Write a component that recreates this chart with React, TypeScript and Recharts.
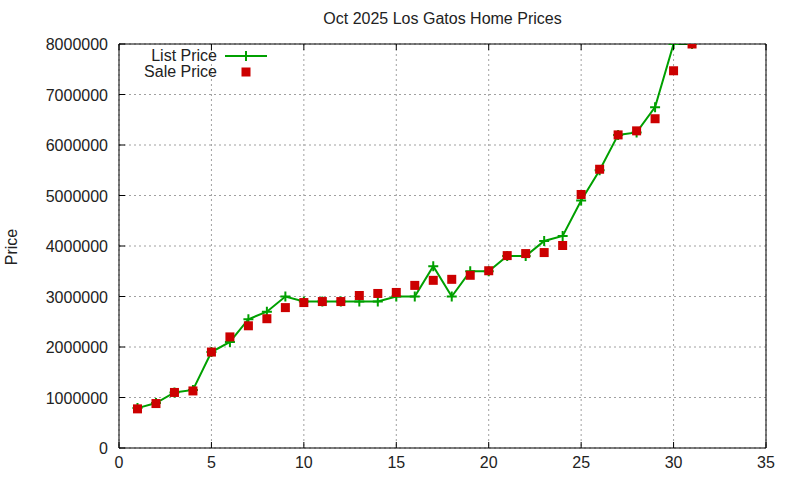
import { ComposedChart, Line, XAxis, YAxis, CartesianGrid } from 'recharts'

const days = [
  1, 2, 3, 4, 5, 6, 7, 8, 9, 10, 11, 12, 13, 14, 15, 16, 17, 18, 19, 20, 21, 22, 23, 24, 25, 26, 27, 28, 29, 30, 31,
]

const listPrice = [
  790000, 890000, 1100000, 1150000, 1900000, 2100000, 2550000, 2700000, 3000000, 2900000, 2900000, 2900000,
  2900000, 2900000, 3000000, 3000000, 3600000, 3000000, 3500000, 3500000, 3800000, 3800000, 4100000, 4200000,
  4900000, 5500000, 6200000, 6250000, 6750000, 8000000, 8000000,
]

const salePrice = [
  775000, 880000, 1100000, 1130000, 1900000, 2200000, 2420000, 2560000, 2780000, 2880000, 2900000, 2900000,
  3020000, 3060000, 3080000, 3220000, 3320000, 3340000, 3420000, 3510000, 3810000, 3850000, 3870000, 4010000,
  5020000, 5520000, 6200000, 6280000, 6520000, 7470000, 8000000,
]

const xTicks = [0, 5, 10, 15, 20, 25, 30, 35]
const yTicks = [0, 1000000, 2000000, 3000000, 4000000, 5000000, 6000000, 7000000, 8000000]

const data = days.map((d, i) => ({ day: d, list: listPrice[i], sale: salePrice[i] }))

const GREEN = '#00a000'
const RED = '#cc0000'
const FONT = 'Liberation Sans, Arial, sans-serif'
const TICK = 6

const BottomTick = ({ x, y, payload }: any) => (
  <g>
    <line x1={x} y1={y} x2={x} y2={y - TICK} stroke='#000' />
    <text x={x} y={y + 20} textAnchor='middle' fontSize={16} fontFamily={FONT} fill='#222'>
      {payload.value}
    </text>
  </g>
)

const TopTick = ({ x, y }: any) => <line x1={x} y1={y} x2={x} y2={y + TICK} stroke='#000' />

const LeftTick = ({ x, y, payload }: any) => (
  <g>
    <line x1={x} y1={y} x2={x + TICK} y2={y} stroke='#000' />
    <text x={x - 11} y={y + 6} textAnchor='end' fontSize={16} fontFamily={FONT} fill='#222'>
      {payload.value}
    </text>
  </g>
)

const RightTick = ({ x, y }: any) => <line x1={x} y1={y} x2={x - TICK} y2={y} stroke='#000' />

const PlusDot = ({ cx, cy }: any) => (
  <path d={`M${cx - 5},${cy}H${cx + 5}M${cx},${cy - 5}V${cy + 5}`} stroke={GREEN} strokeWidth={2} />
)

const SquareDot = ({ cx, cy }: any) => <rect x={cx - 4.5} y={cy - 4.5} width={9} height={9} fill={RED} />

const LegendBox = () => (
  <div style={{ fontFamily: FONT, fontSize: 16, color: '#222', lineHeight: '16px' }}>
    <div style={{ display: 'flex', alignItems: 'center', height: 16 }}>
      <span style={{ width: 98, textAlign: 'right' }}>List Price</span>
      <svg width={52} height={16}>
        <line x1={8} y1={8} x2={50} y2={8} stroke={GREEN} strokeWidth={2} />
        <path d='M29,3V13' stroke={GREEN} strokeWidth={2} />
      </svg>
    </div>
    <div style={{ display: 'flex', alignItems: 'center', height: 16 }}>
      <span style={{ width: 98, textAlign: 'right' }}>Sale Price</span>
      <svg width={52} height={16}>
        <rect x={24.5} y={3.5} width={9} height={9} fill={RED} />
      </svg>
    </div>
  </div>
)

export default function App() {
  return (
    <div style={{ position: 'absolute', left: 0, top: 0, width: 800, height: 480, background: '#fff' }}>
      <div
        style={{
          position: 'absolute',
          left: 0,
          width: 885,
          top: 10,
          textAlign: 'center',
          fontFamily: FONT,
          fontSize: 16,
          color: '#222',
        }}
      >
        Oct 2025 Los Gatos Home Prices
      </div>
      <div
        style={{
          position: 'absolute',
          left: 12,
          top: 247,
          transform: 'translate(-50%, -50%) rotate(-90deg)',
          fontFamily: FONT,
          fontSize: 16,
          color: '#222',
        }}
      >
        Price
      </div>
      <ComposedChart width={800} height={480} data={data} margin={{ top: 0, right: 0, bottom: 0, left: 0 }}>
        <CartesianGrid xAxisId='b' yAxisId='l' stroke='#a0a0a0' strokeDasharray='2 3' />
        <XAxis
          xAxisId='b'
          dataKey='day'
          type='number'
          domain={[0, 35]}
          ticks={xTicks}
          interval={0}
          height={32}
          tickSize={0}
          tickMargin={0}
          tickLine={false}
          axisLine={{ stroke: '#000' }}
          tick={<BottomTick />}
        />
        <XAxis
          xAxisId='t'
          orientation='top'
          dataKey='day'
          type='number'
          domain={[0, 35]}
          ticks={xTicks}
          interval={0}
          height={44}
          tickSize={0}
          tickMargin={0}
          tickLine={false}
          axisLine={{ stroke: '#000' }}
          tick={<TopTick />}
        />
        <YAxis
          yAxisId='l'
          type='number'
          domain={[0, 8000000]}
          ticks={yTicks}
          interval={0}
          width={119}
          tickSize={0}
          tickMargin={0}
          tickLine={false}
          axisLine={{ stroke: '#000' }}
          tick={<LeftTick />}
          allowDataOverflow
        />
        <YAxis
          yAxisId='r'
          orientation='right'
          type='number'
          domain={[0, 8000000]}
          ticks={yTicks}
          interval={0}
          width={34}
          tickSize={0}
          tickMargin={0}
          tickLine={false}
          axisLine={{ stroke: '#000' }}
          tick={<RightTick />}
        />
        <Line
          xAxisId='b'
          yAxisId='l'
          dataKey='list'
          name='List Price'
          type='linear'
          stroke={GREEN}
          strokeWidth={2}
          dot={<PlusDot />}
          activeDot={false}
          isAnimationActive={false}
        />
        <Line
          xAxisId='b'
          yAxisId='l'
          dataKey='sale'
          name='Sale Price'
          type='linear'
          stroke='none'
          dot={<SquareDot />}
          activeDot={false}
          isAnimationActive={false}
        />
      </ComposedChart>
      <div style={{ position: 'absolute', left: 119, top: 48 }}>
        <LegendBox />
      </div>
    </div>
  )
}
